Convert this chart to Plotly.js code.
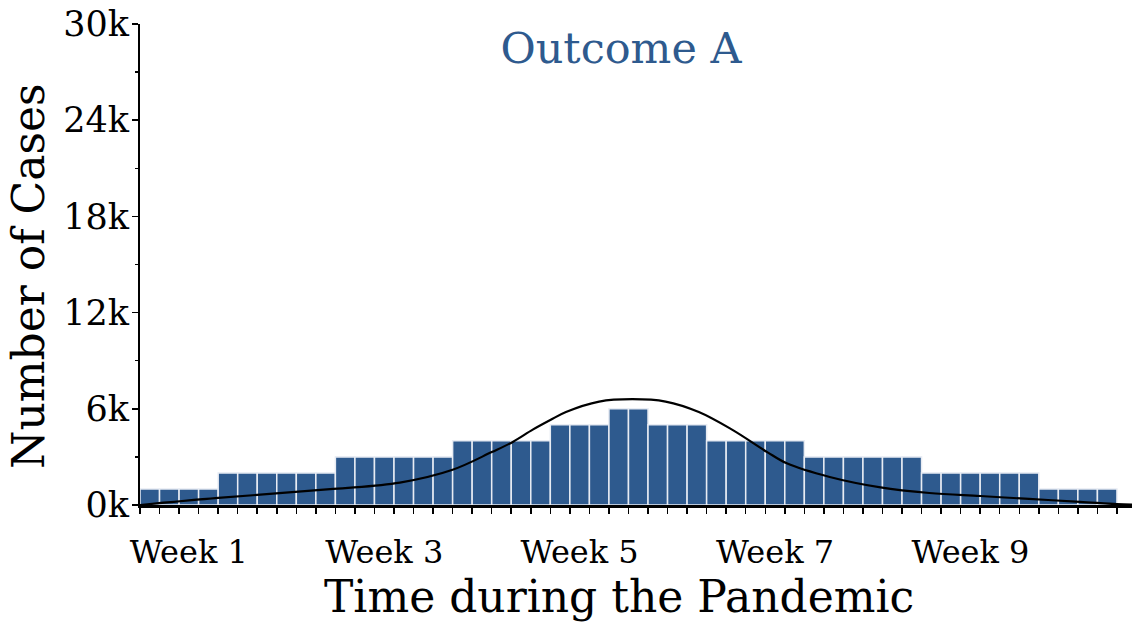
<!DOCTYPE html>
<html>
<head>
<meta charset="utf-8">
<script src="https://cdn.plot.ly/plotly-3.0.1.min.js"></script>
<style>html,body{margin:0;padding:0;background:#fff;}#chart{width:1132px;height:623px;}</style>
</head>
<body>
<div id="chart"></div>
<script>
// Daily case counts (50 days, 5 days per "week")
const dayIndex = Array.from({length: 50}, (_, i) => i);
const dailyCases = [
  1000,1000,1000,1000,
  2000,2000,2000,2000,2000,2000,
  3000,3000,3000,3000,3000,3000,
  4000,4000,4000,4000,4000,
  5000,5000,5000,
  6000,6000,
  5000,5000,5000,
  4000,4000,4000,4000,4000,
  3000,3000,3000,3000,3000,3000,
  2000,2000,2000,2000,2000,2000,
  1000,1000,1000,1000
];

// Smooth curve
const curveX = [-0.5, 3.5, 9.4, 12.8, 15.5, 17.5, 18.6, 19.6, 20.5, 21.3, 23.0, 24.7, 26.4, 28.1, 29.8, 31.6, 32.6, 34.8, 37.4, 39.9, 42.5, 45.0, 47.6, 49.5, 50.3];
const curveY = [0, 440, 1000, 1400, 2200, 3300, 3950, 4700, 5300, 5800, 6450, 6600, 6450, 5800, 4700, 3300, 2600, 1750, 1100, 750, 560, 380, 200, 50, 20];

const yTickVals = [0, 6000, 12000, 18000, 24000, 30000];
const yTickText = ['0k', '6k', '12k', '18k', '24k', '30k'];
const xTickVals = [2, 12, 22, 32, 42];
const xTickText = ['Week 1', 'Week 3', 'Week 5', 'Week 7', 'Week 9'];

const titleText = 'Outcome A';
const xTitleText = 'Time during the Pandemic';
const yTitleText = 'Number of Cases';

const FONT = 'DejaVu Serif, serif';

const traces = [
  {
    type: 'bar',
    x: dayIndex,
    y: dailyCases,
    width: 1,
    marker: {color: '#2e5a8e', line: {color: '#e8ecf3', width: 1.5}},
    hoverinfo: 'skip'
  },
  {
    type: 'scatter',
    mode: 'lines',
    x: curveX,
    y: curveY,
    line: {color: '#000', width: 2.2, shape: 'spline', smoothing: 1},
    hoverinfo: 'skip'
  }
];

const layout = {
  width: 1132,
  height: 623,
  margin: {l: 140, r: 0, t: 24, b: 118},
  paper_bgcolor: '#fff',
  plot_bgcolor: '#fff',
  showlegend: false,
  bargap: 0,
  font: {family: FONT, color: '#000'},
  title: {
    text: titleText,
    font: {family: FONT, size: 43, color: '#2e5a8e'},
    x: 621 / 1132, xref: 'container', xanchor: 'center',
    y: 1 - 48 / 623, yref: 'container', yanchor: 'middle'
  },
  xaxis: {
    range: [-0.5, 50.27],
    showgrid: false,
    zeroline: false,
    showline: true,
    linecolor: '#000',
    linewidth: 2.5,
    tickmode: 'array',
    tickvals: xTickVals,
    ticktext: xTickText,
    ticks: '',
    ticklabelstandoff: 17,
    tickfont: {family: FONT, size: 32, color: '#000'},
    minor: {tickmode: 'linear', tick0: -0.5, dtick: 1, ticks: 'outside', ticklen: 6, tickwidth: 1.5, tickcolor: '#000', showgrid: false}
  },
  yaxis: {
    range: [0, 30000],
    showgrid: false,
    zeroline: false,
    showline: true,
    linecolor: '#000',
    linewidth: 2,
    tickmode: 'array',
    tickvals: yTickVals,
    ticktext: yTickText,
    ticks: 'outside',
    ticklen: 6,
    tickwidth: 1.5,
    tickcolor: '#000',
    ticklabelstandoff: -4,
    tickfont: {family: FONT, size: 35, color: '#000'},
    minor: {tickmode: 'linear', tick0: 0, dtick: 3000, ticks: 'outside', ticklen: 3, tickwidth: 1.5, tickcolor: '#000', showgrid: false}
  },
  annotations: [
    {
      text: xTitleText, xref: 'paper', yref: 'paper',
      x: (619 - 140) / 992, y: (505 - 596) / 481,
      xanchor: 'center', yanchor: 'middle', showarrow: false,
      font: {family: FONT, size: 44, color: '#000'}
    },
    {
      text: yTitleText, xref: 'paper', yref: 'paper',
      x: (28 - 140) / 992, y: (505 - 276) / 481,
      xanchor: 'center', yanchor: 'middle', showarrow: false, textangle: -90,
      font: {family: FONT, size: 44, color: '#000'}
    }
  ]
};

Plotly.newPlot('chart', traces, layout, {displayModeBar: false, staticPlot: true});
</script>
</body>
</html>
